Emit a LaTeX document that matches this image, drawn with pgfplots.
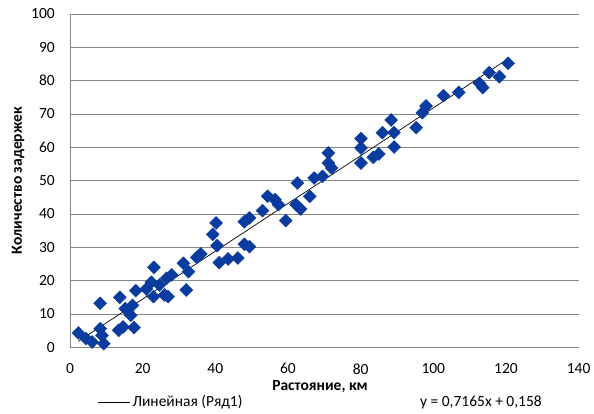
\documentclass[border=0pt]{standalone}
\usepackage{fontspec}
\setmainfont{Carlito}
\usepackage{pgfplots}
\pgfplotsset{compat=1.18}
\definecolor{markblue}{RGB}{10,60,160}
\definecolor{gridgray}{RGB}{134,134,134}
\newcommand{\chartfont}{\fontsize{15.5bp}{18bp}\selectfont}

\begin{document}
\begin{tikzpicture}
\begin{axis}[
    name=ax,
    scale only axis,
    width=508.6bp, height=333.3bp,
    xmin=0, xmax=140, ymin=0, ymax=100,
    xtick={0,20,...,140},
    ytick={0,10,...,100},
    axis x line=bottom, axis y line=left,
    axis line style={gridgray, line width=0.8bp, -},
    ymajorgrids,
    major grid style={gridgray, line width=0.8bp},
    major tick length=0pt,
    /pgf/number format/assume math mode=true,
    ticklabel style={font=\chartfont, inner sep=0pt},
    xticklabel style={anchor=north, yshift=-16bp},
    yticklabel style={anchor=east, xshift=-15bp},
    clip=false,
    legend style={at={(rel axis cs:0.0545,-0.164)}, anchor=west, draw=none, fill=none,
        inner sep=0pt, font=\chartfont},
    legend cell align=left,
    legend image code/.code={\draw[#1] (0bp,0bp) -- (32bp,0bp);},
]
% Ряд1: точки
\addplot[only marks, mark=square*, mark size=4.6bp,
    mark options={rotate=45, fill=markblue, draw=markblue}, forget plot] table {
x y
2.3 4.3
4.4 2.6
6.1 1.6
8.3 5.6
8.8 3.6
9.3 1.1
8.3 13.2
13.4 5.1
14.6 6.1
13.7 15
15.2 11.6
16.7 9.6
17.2 12.6
17.6 5.9
18.1 17
21.0 17.5
22.4 19.5
23.0 15.2
23.1 24
24.6 18.7
26.0 15.7
27.0 15.2
26.6 20.7
28.0 21.7
31.2 25.2
32.6 22.7
32.0 17.2
34.9 27
36.0 28
39.3 33.9
40.2 37.3
40.5 30.5
41.1 25.4
43.5 26.5
46.2 26.8
48.0 37.7
49.4 38.8
48.0 30.9
49.4 30.2
53.0 41
54.4 45.3
56.4 44.3
57.4 42.8
59.4 38
62.2 42.8
62.6 49.3
63.5 41.5
66.0 45.3
67.2 50.8
69.5 51.3
71.1 58.3
71.1 55.3
72.0 53.8
80.1 62.6
80.1 59.8
80.1 55.3
83.5 57
85.0 58
86.0 64.4
88.4 68.2
89.2 64.4
89.2 60.1
95.3 65.9
97.0 70.4
98.0 72.4
102.8 75.5
107.0 76.5
112.7 79.2
113.6 77.9
115.4 82.4
118.2 81.2
120.6 85.2
};
% линейный тренд
\addplot[black, line width=0.7bp] coordinates {(2.3,1.806) (120.6,86.569)};
\addlegendentry{Линейная (Ряд1)}

\node[font=\chartfont, inner sep=0pt] at (rel axis cs:0.808,-0.164) {y = 0,7165x + 0,158};
\node[font=\chartfont\bfseries, inner sep=0pt] at (rel axis cs:0.4916,-0.117) {Растояние, км};
\node[font=\chartfont\bfseries, rotate=90, inner sep=0pt] at (rel axis cs:-0.102,0.5) {Количество задержек};
\end{axis}
\pgfresetboundingbox
\path[use as bounding box] ([shift={(-70bp,-66.7bp)}]ax.south west) rectangle ([shift={(15.4bp,14bp)}]ax.north east);
\end{tikzpicture}
\end{document}
